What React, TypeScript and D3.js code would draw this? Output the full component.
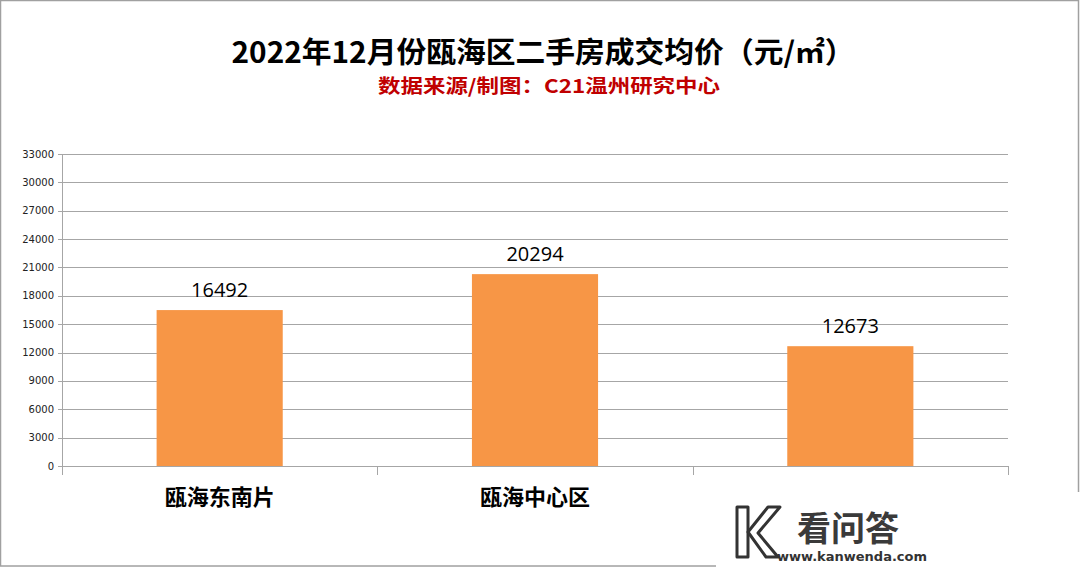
import React from "react";
import * as d3 from "d3";

const categories = ["瓯海东南片", "瓯海中心区", ""];
const values = [16492, 20294, 12673];
const yTicks = [0, 3000, 6000, 9000, 12000, 15000, 18000, 21000, 24000, 27000, 30000, 33000];
const title = "2022年12月份瓯海区二手房成交均价（元/㎡）";
const subtitle = "数据来源/制图：C21温州研究中心";

export default function App() {
  const W = 1080, H = 567;
  const left = 62, right = 1008, top = 154, bottom = 466;
  const x = d3.scaleBand<string>().domain(categories.map((c, i) => String(i))).range([left, right]).paddingInner(0.6).paddingOuter(0.3);
  const band = d3.scaleBand<string>().domain(categories.map((c, i) => String(i))).range([left, right]);
  const y = d3.scaleLinear().domain([0, 33000]).range([bottom, top]);
  const grid = "#a6a6a6";
  const cjk = "'Noto Sans CJK SC', 'Noto Sans', sans-serif";
  return (
    <svg width={W} height={H} style={{ position: "absolute", left: 0, top: 0, background: "#fff" }}>
      <rect x={0.5} y={0.5} width={W - 2} height={H - 1.5} fill="#fff" stroke="#a0a0a0" strokeWidth={1.5} />
      <text x={543} y={63} textAnchor="middle" fontFamily={cjk} fontWeight="bold" fontSize={29} fill="#000" textLength={623} lengthAdjust="spacingAndGlyphs">{title}</text>
      <text x={549} y={93} textAnchor="middle" fontFamily={cjk} fontWeight="bold" fontSize={19} fill="#C00000" textLength={342} lengthAdjust="spacingAndGlyphs">{subtitle}</text>
      {yTicks.map((t) => (
        <g key={t}>
          <line x1={58} x2={right} y1={Math.round(y(t)) + 0.5} y2={Math.round(y(t)) + 0.5} stroke={grid} strokeWidth={1} />
          <text x={54} y={y(t) + 3.5} textAnchor="end" fontFamily="'DejaVu Sans', sans-serif" fontSize={10} fill="#222">{t}</text>
        </g>
      ))}
      <line x1={left + 0.5} x2={left + 0.5} y1={top} y2={bottom + 9} stroke={grid} />
      {[0, 1, 2, 3].map((i) => {
        const xx = i < 3 ? band(String(i))! : right;
        return <line key={i} x1={Math.round(xx) + 0.5} x2={Math.round(xx) + 0.5} y1={bottom} y2={bottom + 9} stroke={grid} />;
      })}
      {values.map((v, i) => (
        <g key={i}>
          <rect x={x(String(i))!} y={y(v)} width={x.bandwidth()} height={bottom - y(v)} fill="#F79646" />
          <text x={x(String(i))! + x.bandwidth() / 2} y={y(v) - 13} textAnchor="middle" fontFamily="'Open Sans', sans-serif" fontSize={20} fill="#000">{v}</text>
          <text x={band(String(i))! + band.bandwidth() / 2} y={505} textAnchor="middle" fontFamily={cjk} fontWeight="bold" fontSize={22} fill="#000">{categories[i]}</text>
        </g>
      ))}
      {/* watermark overlay */}
      <rect x={716} y={492} width={364} height={75} fill="#fff" />
      <g fill="none" stroke="#333" strokeWidth={3} strokeLinejoin="round">
        <path d="M737 507 L748 507 L748 557 L737 557 Z" />
        <path d="M748 532 L768 507 L780 507 L758 533 L778 557 L766 557 Z" />
      </g>
      <text x={848} y={541} textAnchor="middle" fontFamily={cjk} fontWeight="bold" fontSize={34} fill="#3a3a3a">看问答</text>
      <text x={852} y={561} textAnchor="middle" fontFamily="'DejaVu Sans', sans-serif" fontWeight="bold" fontSize={13} fill="#333">www.kanwenda.com</text>
    </svg>
  );
}
